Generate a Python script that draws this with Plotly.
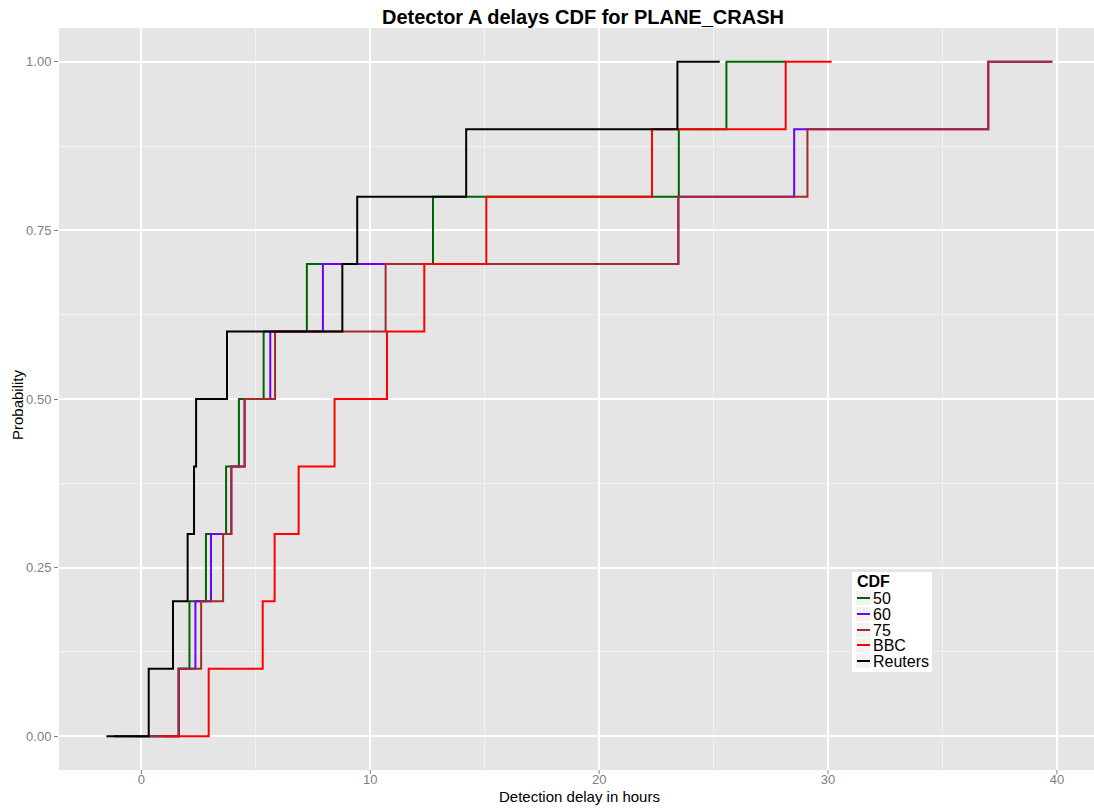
import plotly.graph_objects as go

# ---------------- data ----------------
series_names = ["50", "60", "75", "BBC", "Reuters"]
series_colors = ["#006400", "#6A00FF", "#A52A2A", "#FF0000", "#000000"]

# x positions (hours) where each ECDF steps up by 0.1
steps_50 = [1.63, 2.10, 2.82, 3.70, 4.26, 5.34, 7.23, 12.74, 23.48, 25.56]
steps_60 = [1.63, 2.36, 3.04, 3.93, 4.51, 5.63, 7.93, 23.46, 28.52, 37.00]
steps_75 = [1.63, 2.61, 3.57, 3.93, 4.51, 5.84, 10.67, 23.46, 29.10, 37.00]
steps_bbc = [2.94, 5.30, 5.82, 6.87, 8.44, 10.73, 12.36, 15.07, 22.31, 28.15]
steps_reuters = [0.32, 1.38, 2.02, 2.30, 2.39, 3.74, 8.78, 9.43, 14.19, 23.42]

# start / end of each drawn curve (hours)
starts = [-0.28, -1.20, -1.20, 0.92, -1.53]
ends = [28.20, 39.80, 39.80, 30.16, 25.27]

# cumulative probability levels
levels = [0.0, 0.1, 0.2, 0.3, 0.4, 0.5, 0.6, 0.7, 0.8, 0.9, 1.0]

x_ticks = [0, 10, 20, 30, 40]
y_ticks = [0.0, 0.25, 0.5, 0.75, 1.0]
y_tick_labels = ["0.00", "0.25", "0.50", "0.75", "1.00"]

all_steps = [steps_50, steps_60, steps_75, steps_bbc, steps_reuters]

# ---------------- figure ----------------
W, H = 1094, 810
ML, MR, MT, MB = 59, 0, 28, 40
pw, ph = W - ML - MR, H - MT - MB


def px_x(p):
    return (p - ML) / pw


def px_y(p):
    return (H - MB - p) / ph


fig = go.Figure()
for name, col, st, s0, s1 in zip(series_names, series_colors, all_steps, starts, ends):
    xs = [s0] + st + [s1]
    ys = levels + [levels[-1]]
    fig.add_trace(go.Scatter(x=xs, y=ys, mode="lines", name=name,
                             line=dict(color=col, width=2, shape="hv"),
                             showlegend=False))

FONT = "Liberation Sans, Arial, sans-serif"

fig.update_layout(
    width=W, height=H,
    margin=dict(l=ML, r=MR, t=MT, b=MB),
    paper_bgcolor="white",
    plot_bgcolor="#E5E5E5",
    font=dict(family=FONT),
    xaxis=dict(range=[-3.6, 41.62], tickvals=x_ticks, ticktext=[str(v) for v in x_ticks],
               showgrid=True, gridcolor="white", gridwidth=1.5, zeroline=False,
               ticks="",
               tickfont=dict(size=13, color="#7F7F7F", family=FONT),
               minor=dict(tickvals=[5, 15, 25, 35], showgrid=True,
                          gridcolor="#F2F2F2", gridwidth=0.8, ticks=""),
               showline=False),
    yaxis=dict(range=[-0.05, 1.05], tickvals=y_ticks, ticktext=y_tick_labels,
               showgrid=True, gridcolor="white", gridwidth=1.5, zeroline=False,
               ticks="outside", ticklen=4, tickcolor="#7F7F7F", tickwidth=1,
               tickfont=dict(size=13, color="#7F7F7F", family=FONT),
               minor=dict(tickvals=[0.125, 0.375, 0.625, 0.875], showgrid=True,
                          gridcolor="#F2F2F2", gridwidth=0.8, ticks=""),
               showline=False),
    showlegend=False,
)

annotations = [
    dict(text="<b>Detector A delays CDF for PLANE_CRASH</b>", xref="paper", yref="paper",
         x=px_x(583), y=px_y(17), xanchor="center", yanchor="middle", showarrow=False,
         font=dict(size=20, color="black", family=FONT)),
    dict(text="Detection delay in hours", xref="paper", yref="paper",
         x=px_x(579), y=px_y(796), xanchor="center", yanchor="middle", showarrow=False,
         font=dict(size=15, color="black", family=FONT)),
    dict(text="Probability", xref="paper", yref="paper", textangle=-90,
         x=px_x(17), y=px_y(405), xanchor="center", yanchor="middle", showarrow=False,
         font=dict(size=15, color="black", family=FONT)),
    dict(text="<b>CDF</b>", xref="paper", yref="paper",
         x=px_x(855), y=px_y(581), xanchor="left", yanchor="middle", showarrow=False,
         font=dict(size=16, color="black", family=FONT)),
]

shapes = []
# x-axis tick marks (grey, outside)
for v in x_ticks:
    shapes.append(dict(type="line", xref="x", yref="paper", x0=v, x1=v,
                       y0=0, y1=-4 / ph, line=dict(color="#7F7F7F", width=1)))

shapes.append(dict(type="rect", xref="paper", yref="paper",
                   x0=px_x(852), x1=px_x(932), y0=px_y(672), y1=px_y(572),
                   fillcolor="white", line=dict(width=0), layer="above"))

row_y = [598, 614, 630, 645, 661]
for name, col, ry in zip(series_names, series_colors, row_y):
    shapes.append(dict(type="rect", xref="paper", yref="paper",
                       x0=px_x(856), x1=px_x(871), y0=px_y(ry + 7), y1=px_y(ry - 7),
                       fillcolor="#F2F2F2", line=dict(width=0), layer="above"))
    shapes.append(dict(type="line", xref="paper", yref="paper",
                       x0=px_x(857), x1=px_x(870), y0=px_y(ry), y1=px_y(ry),
                       line=dict(color=col, width=2), layer="above"))
    annotations.append(dict(text=name, xref="paper", yref="paper",
                            x=px_x(871), y=px_y(ry), xanchor="left", yanchor="middle",
                            showarrow=False,
                            font=dict(size=16, color="black", family=FONT)))

fig.update_layout(annotations=annotations, shapes=shapes)

fig.write_html("out.html")
